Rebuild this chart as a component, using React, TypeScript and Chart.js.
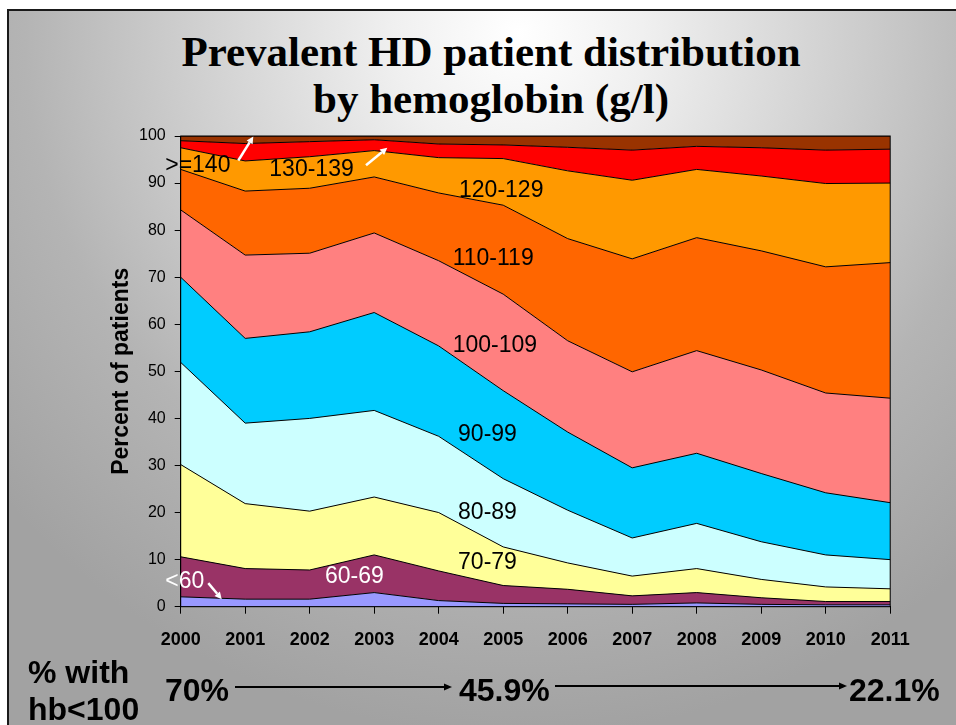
import React, { useEffect, useRef } from 'react';
import { Chart, registerables } from 'chart.js';

Chart.register(...registerables);

// ---- data (percent of patients per hemoglobin band, g/l) ----
const years = ['2000', '2001', '2002', '2003', '2004', '2005', '2006', '2007', '2008', '2009', '2010', '2011'];
const hbUnder60 = [2.1, 1.6, 1.6, 3.0, 1.3, 0.7, 0.6, 0.5, 0.8, 0.5, 0.4, 0.4];
const hb60to69 = [8.5, 6.5, 6.2, 8.0, 6.3, 3.8, 3.1, 1.8, 2.2, 1.4, 0.7, 0.7];
const hb70to79 = [19.6, 13.8, 12.5, 12.3, 12.4, 8.2, 5.6, 4.2, 5.1, 3.9, 3.1, 2.7];
const hb80to89 = [21.7, 17.1, 19.7, 18.4, 16.2, 14.5, 11.2, 8.1, 9.6, 8.0, 6.8, 6.2];
const hb90to99 = [18.1, 18.0, 18.4, 20.8, 19.2, 18.7, 16.6, 14.9, 14.9, 14.5, 13.2, 12.1];
const hb100to109 = [14.3, 17.7, 16.7, 16.9, 18.1, 20.5, 19.4, 20.4, 21.8, 22.0, 21.2, 22.2];
const hb110to119 = [8.6, 13.6, 13.8, 11.9, 14.4, 18.9, 21.7, 24.0, 24.0, 25.3, 26.8, 28.8];
const hb120to129 = [4.6, 6.4, 6.7, 5.6, 7.5, 9.9, 14.4, 16.7, 14.5, 15.9, 17.7, 16.9];
const hb130to139 = [1.5, 3.7, 3.2, 2.3, 2.9, 2.9, 5.0, 6.4, 4.9, 6.0, 7.1, 7.2];
const hb140plus = [1.0, 1.6, 1.2, 0.8, 1.7, 1.9, 2.4, 3.0, 2.2, 2.5, 3.0, 2.8];

const bandLabels = ['<60', '60-69', '70-79', '80-89', '90-99', '100-109', '110-119', '120-129', '130-139', '>=140'];
const bandValues = [hbUnder60, hb60to69, hb70to79, hb80to89, hb90to99, hb100to109, hb110to119, hb120to129, hb130to139, hb140plus];
const bandColors = ['#9999FF', '#993366', '#FFFF99', '#CCFFFF', '#00CCFF', '#FF8080', '#FF6600', '#FF9900', '#FF0000', '#993300'];

const yTicks = [0, 10, 20, 30, 40, 50, 60, 70, 80, 90, 100];
const lowHbShare = ['70%', '45.9%', '22.1%'];

// in-chart band labels: [text, category index (fractional), value, colour]
const bandTextSpots: [string, number, number, string][] = [
  ['>=140', -0.24, 93.7, '#000'],
  ['130-139', 1.374, 92.8, '#000'],
  ['120-129', 4.315, 88.4, '#000'],
  ['110-119', 4.217, 73.9, '#000'],
  ['100-109', 4.217, 55.4, '#000'],
  ['90-99', 4.3, 36.5, '#000'],
  ['80-89', 4.3, 20.0, '#000'],
  ['70-79', 4.3, 9.3, '#000'],
  ['60-69', 2.237, 6.4, '#fff'],
  ['<60', -0.24, 5.3, '#fff'],
];
// white pointer arrows: [fromIdx, fromVal, toIdx, toVal]
const pointerArrows: [number, number, number, number][] = [
  [0.893, 94.8, 1.126, 99.9],
  [2.873, 93.8, 3.203, 97.5],
  [0.428, 5.0, 0.636, 1.6],
];

const SANS = "'Liberation Sans', Arial, sans-serif";

const annotationPlugin = {
  id: 'bandAnnotations',
  afterDraw(chart: any) {
    const { ctx, chartArea, scales } = chart;
    const xs = scales.x;
    const ys = scales.y;
    ctx.save();
    // plot frame
    ctx.strokeStyle = '#000';
    ctx.lineWidth = 1;
    ctx.strokeRect(chartArea.left, chartArea.top, chartArea.right - chartArea.left, chartArea.bottom - chartArea.top);
    // arrows
    ctx.strokeStyle = '#fff';
    ctx.fillStyle = '#fff';
    ctx.lineWidth = 2.5;
    for (const [fi, fv, ti, tv] of pointerArrows) {
      const x1 = xs.getPixelForValue(fi);
      const y1 = ys.getPixelForValue(fv);
      const x2 = xs.getPixelForValue(ti);
      const y2 = ys.getPixelForValue(tv);
      const ang = Math.atan2(y2 - y1, x2 - x1);
      const hl = 7;
      const bx = x2 - hl * Math.cos(ang);
      const by = y2 - hl * Math.sin(ang);
      ctx.beginPath();
      ctx.moveTo(x1, y1);
      ctx.lineTo(bx, by);
      ctx.stroke();
      ctx.beginPath();
      ctx.moveTo(x2, y2);
      ctx.lineTo(bx + 3.5 * Math.sin(ang), by - 3.5 * Math.cos(ang));
      ctx.lineTo(bx - 3.5 * Math.sin(ang), by + 3.5 * Math.cos(ang));
      ctx.closePath();
      ctx.fill();
    }
    // labels
    ctx.font = `23px ${SANS}`;
    ctx.textAlign = 'left';
    ctx.textBaseline = 'middle';
    for (const [text, idx, val, color] of bandTextSpots) {
      ctx.fillStyle = color;
      ctx.fillText(text, xs.getPixelForValue(idx), ys.getPixelForValue(val));
    }
    ctx.restore();
  },
};

function HbChart() {
  const ref = useRef<HTMLCanvasElement | null>(null);
  useEffect(() => {
    if (!ref.current) return;
    const chart = new Chart(ref.current, {
      type: 'line',
      data: {
        labels: years,
        datasets: bandValues.map((vals, i) => ({
          label: bandLabels[i],
          data: vals,
          backgroundColor: bandColors[i],
          borderColor: '#000',
          borderWidth: 1,
          pointRadius: 0,
          tension: 0,
          fill: i === 0 ? 'origin' : '-1',
        })),
      },
      options: {
        responsive: false,
        animation: false,
        events: [],
        devicePixelRatio: 1,
        layout: { padding: { left: 100, top: 136, right: 65.8, bottom: 0 } },
        plugins: { legend: { display: false }, tooltip: { enabled: false }, title: { display: false } },
        scales: {
          x: {
            offset: false,
            grid: { drawOnChartArea: false, drawTicks: true, tickLength: 7, color: '#000', offset: false },
            border: { color: '#000', width: 1 },
            ticks: { color: '#000', font: { family: SANS, size: 18, weight: 'bold' }, padding: 16, maxRotation: 0, autoSkip: false },
            afterFit: (s: any) => { s.height = 118.3; },
          },
          y: {
            stacked: true,
            min: 0,
            max: 100,
            afterBuildTicks: (s: any) => { s.ticks = yTicks.map((v) => ({ value: v })); },
            grid: { drawOnChartArea: false, drawTicks: true, tickLength: 6, color: '#000' },
            border: { color: '#000', width: 1 },
            ticks: { color: '#000', font: { family: SANS, size: 16 }, padding: 9 },
            title: { display: true, text: 'Percent of patients', color: '#000', font: { family: SANS, size: 23, weight: 'bold' }, padding: { top: 8, bottom: 0 } },
            afterFit: (s: any) => { s.width = 80.7; },
          },
        },
      },
      plugins: [annotationPlugin],
    });
    return () => chart.destroy();
  }, []);
  return <canvas ref={ref} width={956} height={725} style={{ position: 'absolute', left: 0, top: 0, width: 956, height: 725 }} />;
}

function Arrow({ x1, x2, y }: { x1: number; x2: number; y: number }) {
  return (
    <svg style={{ position: 'absolute', left: 0, top: 0 }} width={956} height={725}>
      <line x1={x1} y1={y} x2={x2 - 7} y2={y} stroke="#000" strokeWidth={1.8} />
      <polygon points={`${x2},${y} ${x2 - 8},${y - 3.5} ${x2 - 8},${y + 3.5}`} fill="#000" />
    </svg>
  );
}

export default function App() {
  const bold32: React.CSSProperties = { position: 'absolute', font: `bold 32px ${SANS}`, lineHeight: '32px', color: '#000', whiteSpace: 'nowrap' };
  const titleStyle: React.CSSProperties = { position: 'absolute', left: 0, width: 982, textAlign: 'center', font: "bold 43px 'Liberation Serif', 'Times New Roman', serif", lineHeight: '43px', color: '#000', whiteSpace: 'nowrap' };
  return (
    <div style={{ position: 'fixed', left: 0, top: 0, width: 956, height: 725, overflow: 'hidden', background: '#fff' }}>
      <div
        style={{
          position: 'absolute', left: 7, top: 9, width: 980, height: 740,
          borderLeft: '2px solid #1a1a1a', borderTop: '2px solid #1a1a1a',
          background: 'radial-gradient(ellipse 70% 95% at 52% 3%, #ffffff 0%, #f0f0f0 18%, #d2d2d2 45%, #b4b4b4 72%, #a2a2a2 100%)',
        }}
      />
      <div style={{ ...titleStyle, top: 30 }}>Prevalent HD patient distribution</div>
      <div style={{ ...titleStyle, top: 77 }}>by hemoglobin (g/l)</div>
      <HbChart />
      <div style={{ ...bold32, left: 28, top: 656 }}>% with</div>
      <div style={{ ...bold32, left: 28, top: 693 }}>hb&lt;100</div>
      <div style={{ ...bold32, left: 165, top: 674 }}>{lowHbShare[0]}</div>
      <div style={{ ...bold32, left: 459, top: 674 }}>{lowHbShare[1]}</div>
      <div style={{ ...bold32, left: 849, top: 674 }}>{lowHbShare[2]}</div>
      <Arrow x1={235} x2={452} y={687} />
      <Arrow x1={555} x2={847} y={686} />
    </div>
  );
}
